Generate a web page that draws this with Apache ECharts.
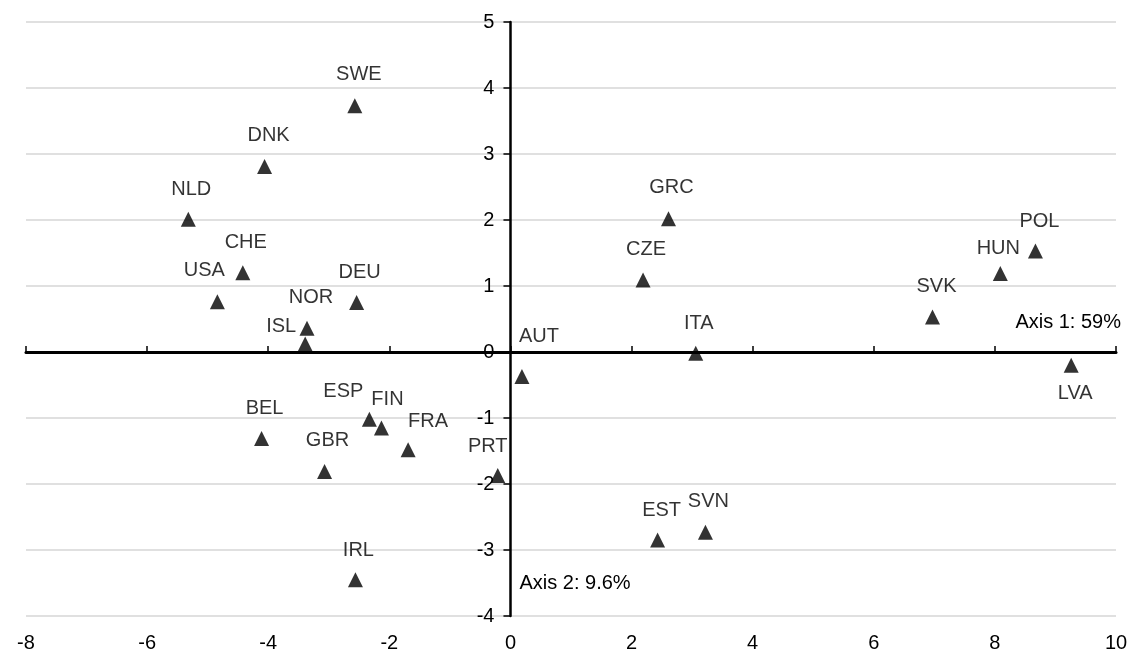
<!DOCTYPE html>
<html><head><meta charset="utf-8">
<script src="https://cdn.jsdelivr.net/npm/echarts@6/dist/echarts.min.js"></script>
<style>html,body{margin:0;padding:0;background:#fff}#c{width:1131px;height:650px}</style>
</head><body><div id="c"></div>
<script>
// ---- data ----
const countries = ['SWE','DNK','NLD','CHE','USA','DEU','NOR','ISL','BEL','ESP','FIN','FRA','GBR','PRT','IRL','AUT','ITA','GRC','CZE','SVK','HUN','POL','LVA','EST','SVN'];
const axis1 = [-2.57,-4.06,-5.32,-4.42,-4.84,-2.54,-3.36,-3.39,-4.11,-2.33,-2.13,-1.69,-3.07,-0.21,-2.56,0.19,3.06,2.61,2.19,6.97,8.09,8.67,9.26,2.43,3.22];
const axis2 = [3.73,2.81,2.01,1.20,0.76,0.75,0.36,0.12,-1.31,-1.02,-1.15,-1.48,-1.81,-1.87,-3.45,-0.37,-0.02,2.02,1.09,0.53,1.19,1.53,-0.20,-2.85,-2.73];
const xTickLabels = ['-8','-6','-4','-2','0','2','4','6','8','10'];
const yTickLabels = ['-4','-3','-2','-1','0','1','2','3','4','5'];
const axis1Title = 'Axis 1: 59%';
const axis2Title = 'Axis 2: 9.6%';

// ---- label placement (pixel offsets from marker centre) ----
const labelOffset = {SWE:[4,-31],DNK:[4,-31],NLD:[3,-30],CHE:[3,-30],USA:[-13,-31],DEU:[3,-30],NOR:[4,-31],ISL:[-24,-18],
  BEL:[3,-30],ESP:[-26,-28],FIN:[6,-28],FRA:[20,-28],GBR:[3,-31],PRT:[-10,-29],IRL:[3,-29],AUT:[17,-40],ITA:[3,-30],
  GRC:[3,-31],CZE:[3,-31],SVK:[4,-31],HUN:[-2,-25],POL:[4,-30],LVA:[4,28],EST:[4,-30],SVN:[3,-31]};

const FONT = 'Liberation Sans';
const FS = 20;
const GRID = {left:26,right:15,top:22,bottom:34};
const xMin = Number(xTickLabels[0]), xMax = Number(xTickLabels[xTickLabels.length-1]);
const yMin = Number(yTickLabels[0]), yMax = Number(yTickLabels[yTickLabels.length-1]);

const el = document.getElementById('c');
const chart = echarts.init(el, null, {renderer:'canvas'});
// pixel position of x = 0 inside the grid (the vertical axis sits there)
const plotW = 1131 - GRID.left - GRID.right;
const yAxisOffset = -((0 - xMin) / (xMax - xMin) * plotW);

const option = {
  backgroundColor:'#fff',
  animation:false,
  grid:Object.assign({containLabel:false,outerBoundsMode:'none'},GRID),
  xAxis:[{
    type:'value',min:xMin,max:xMax,interval:2,position:'bottom',
    axisLine:{show:false,onZero:false},axisTick:{show:false},splitLine:{show:false},
    axisLabel:{color:'#000',fontSize:FS,fontFamily:FONT,margin:17}
  },{
    type:'value',min:xMin,max:xMax,interval:2,position:'bottom',
    axisLine:{show:true,onZero:true,lineStyle:{color:'#000',width:3}},
    axisTick:{show:true,inside:true,length:6,lineStyle:{color:'#000',width:1.5}},
    axisLabel:{show:false},splitLine:{show:false}
  }],
  yAxis:[{
    type:'value',min:yMin,max:yMax,interval:1,position:'left',offset:yAxisOffset,
    axisLine:{show:true,onZero:false,lineStyle:{color:'#000',width:2.5}},
    axisTick:{show:true,inside:false,length:7,lineStyle:{color:'#000',width:1.5}},
    axisLabel:{color:'#000',fontSize:FS,fontFamily:FONT,margin:16},
    splitLine:{show:true,lineStyle:{color:'#d6d6d6',width:1.5}}
  }],
  series:[{
    type:'scatter',xAxisIndex:0,yAxisIndex:0,
    symbol:'triangle',symbolSize:15,
    itemStyle:{color:'#000'},
    label:{show:true,position:'inside',formatter:'{b}',color:'#000',fontSize:FS,fontFamily:FONT,
      align:'center',verticalAlign:'middle',textBorderWidth:0},
    emphasis:{disabled:true},
    data:countries.map((c,i)=>({name:c,value:[axis1[i],axis2[i]],label:{offset:labelOffset[c]}})),
    z:5
  }]
};
chart.setOption(option);
const p1 = chart.convertToPixel({xAxisIndex:0,yAxisIndex:0},[xMax,0]);
const p2 = chart.convertToPixel({xAxisIndex:0,yAxisIndex:0},[0,-3.5]);
chart.setOption({
  graphic:[
    {type:'text',x:p1[0]+5,y:p1[1]-30,style:{text:axis1Title,align:'right',verticalAlign:'middle',fill:'#000',fontSize:FS,fontFamily:FONT}},
    {type:'text',x:p2[0]+9,y:p2[1],style:{text:axis2Title,align:'left',verticalAlign:'middle',fill:'#000',fontSize:FS,fontFamily:FONT}}
  ]
});
</script></body></html>
